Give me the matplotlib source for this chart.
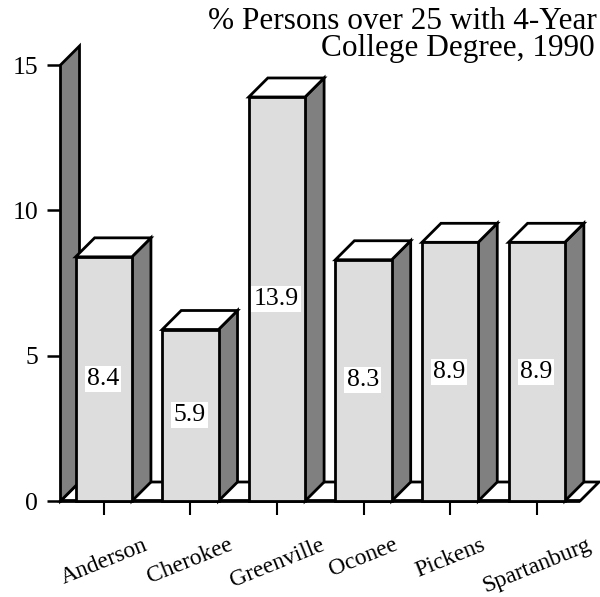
import matplotlib
matplotlib.use("Agg")
import matplotlib.pyplot as plt
from matplotlib.patches import Polygon

plt.rcParams["font.family"] = ["Liberation Serif", "DejaVu Serif"]

counties = ["Anderson", "Cherokee", "Greenville", "Oconee", "Pickens", "Spartanburg"]
pct_degree = [8.4, 5.9, 13.9, 8.3, 8.9, 8.9]
y_ticks = [0, 5, 10, 15]
title_lines = ["% Persons over 25 with 4-Year", "College Degree, 1990"]

FRONT = "#dddddd"
SIDE = "#808080"
TOP = "#ffffff"
EDGE = "black"
LW = 2.0

fig = plt.figure(figsize=(6.0, 5.97), dpi=100)
ax = fig.add_axes([60.5 / 600, 96 / 597, 519.5 / 600, 436 / 597])
x_min, x_max = -0.5, 5.5
y_min, y_max = 0, 15
ax.set_xlim(x_min, x_max)
ax.set_ylim(y_min, y_max)
for s in ax.spines.values():
    s.set_visible(False)
ax.patch.set_visible(False)

# depth of the 3-D extrusion, expressed in data units (about 19 px both ways)
dx = 19 / (519.5 / (x_max - x_min))
dy = 19 / (436 / (y_max - y_min))
bar_w = 0.65

def poly(pts, fc, lw=LW, z=1):
    ax.add_patch(Polygon(pts, closed=True, facecolor=fc, edgecolor=EDGE,
                         linewidth=lw, joinstyle="miter", clip_on=False, zorder=z))

# floor
poly([(x_min, 0), (x_max, 0), (x_max + dx, dy), (x_min + dx, dy)], "white", z=1)
# left wall
poly([(x_min, 0), (x_min, y_max), (x_min + dx, y_max + dy), (x_min + dx, dy)], SIDE, z=2)
# thick front edge of the floor
ax.plot([x_min, x_max], [0, 0], color=EDGE, lw=2.6, solid_capstyle="butt",
        clip_on=False, zorder=2.5)

for i, v in enumerate(pct_degree):
    l, r = i - bar_w / 2, i + bar_w / 2
    poly([(r, 0), (r + dx, dy), (r + dx, v + dy), (r, v)], SIDE, z=3)
    poly([(l, v), (r, v), (r + dx, v + dy), (l + dx, v + dy)], TOP, z=3)
    poly([(l, 0), (r, 0), (r, v), (l, v)], FRONT, z=4)
    ax.text(i - 0.01, v / 2, f"{v}", ha="center", va="center", fontsize=18.5,
            zorder=6, bbox=dict(facecolor="white", edgecolor="none", pad=1.5))

ax.set_yticks(y_ticks)
ax.set_yticklabels([str(t) for t in y_ticks])
ax.set_xticks(range(len(counties)))
ax.set_xticklabels(counties, rotation=22, ha="center")
ax.tick_params(axis="y", direction="out", length=10, width=1.8, pad=6,
               labelsize=18.5, color=EDGE)
ax.tick_params(axis="x", direction="out", length=10, width=1.5, pad=14,
               labelsize=17, color=EDGE)

fig.text(597 / 600, 1 - 29 / 597, title_lines[0], ha="right", va="baseline", fontsize=22.5)
fig.text(595 / 600, 1 - 56 / 597, title_lines[1], ha="right", va="baseline", fontsize=22.5)

fig.savefig("out.png", dpi=100, facecolor="white")
